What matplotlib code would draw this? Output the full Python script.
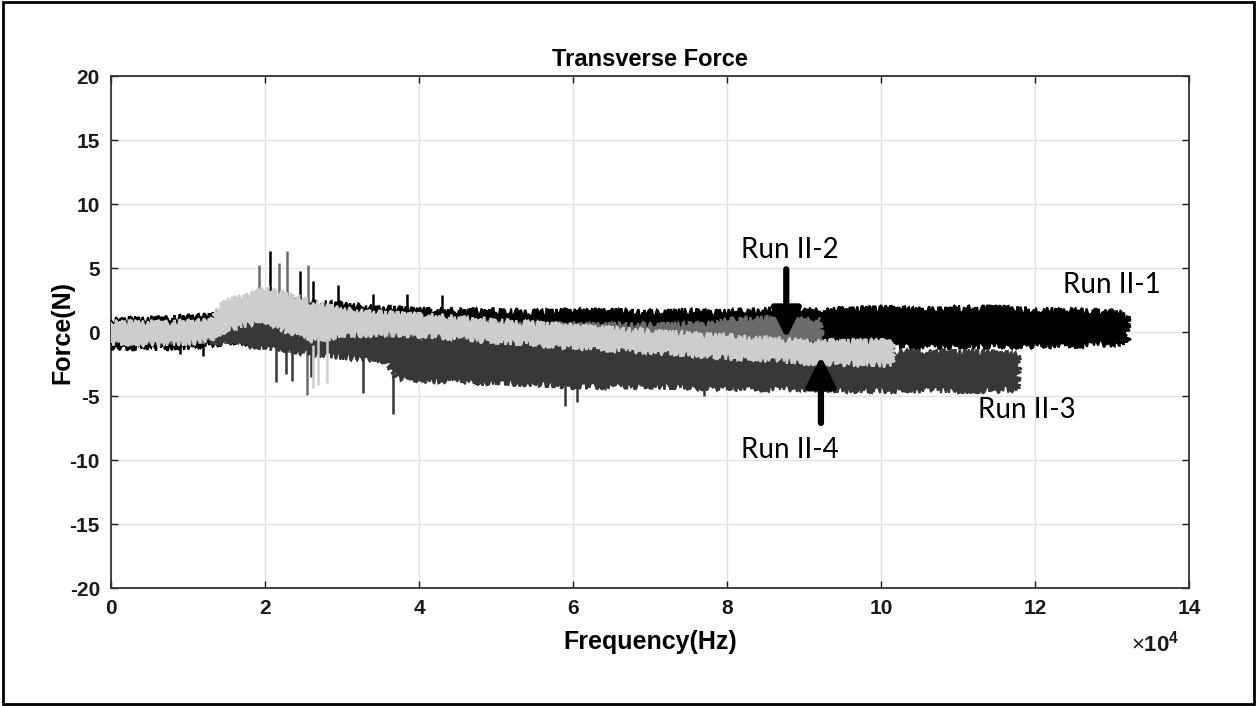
import numpy as np
import matplotlib
matplotlib.use("Agg")
import matplotlib.pyplot as plt
from matplotlib.patches import Rectangle

plt.rcParams['axes.unicode_minus'] = False
plt.rcParams['mathtext.fontset'] = 'custom'
plt.rcParams['mathtext.rm'] = 'Liberation Sans'
plt.rcParams['mathtext.bf'] = 'Liberation Sans:bold'

# frequency axis in units of 1e4 Hz, force in N (envelopes)

# Run II-1 (black)
x1 = [0, 0.5, 1.0, 1.3, 1.6, 2.0, 2.5, 3.0, 3.5, 4.0, 4.5, 5.0, 5.5, 6.0, 6.5, 7.0,
      7.5, 8.0, 8.5, 9.0, 9.5, 10.0, 10.5, 11.0, 11.5, 12.0, 12.5, 13.0, 13.2]
upper1 = [0.9, 1.0, 1.1, 1.2, 2.0, 2.6, 2.3, 2.1, 1.8, 1.7, 1.6, 1.6, 1.5, 1.6, 1.6, 1.5,
          1.6, 1.5, 1.7, 1.6, 1.7, 1.8, 1.7, 1.8, 1.8, 1.7, 1.6, 1.5, 1.3]
lower1 = [-1.1, -1.2, -1.1, -0.9, -0.7, -0.9, -1.0, -0.9, -0.9, -0.9, -0.8, -0.8, -0.8, -0.9, -0.9, -0.9,
          -0.9, -0.9, -1.0, -1.0, -1.0, -1.1, -1.1, -1.1, -1.1, -1.0, -1.0, -0.9, -0.8]

# Run II-2 (mid gray)
x2 = [0, 1.3, 2.0, 2.5, 3.0, 3.5, 4.0, 5.0, 6.0, 7.0, 7.8, 8.2, 8.5, 9.0, 9.21]
upper2 = [0.6, 0.7, 2.3, 1.8, 1.3, 0.9, 0.7, 0.6, 0.5, 0.5, 0.6, 1.0, 1.0, 0.9, 0.9]
lower2 = [-0.7, -0.7, -0.4, -0.8, -0.8, -0.7, -0.6, -0.6, -0.6, -0.7, -0.7, -0.7, -0.7, -0.7, -0.7]

# Run II-3 (dark gray)
x3 = [1.3, 1.6, 2.0, 2.4, 2.8, 3.2, 3.6, 3.7, 4.0, 4.5, 5.0, 5.5, 6.0, 6.5, 7.0, 7.5,
      8.0, 8.5, 9.0, 9.5, 10.0, 10.5, 11.0, 11.5, 11.78]
upper3 = [0.2, 0.5, 0.8, 0.6, 0.2, -0.2, -0.3, -0.4, -0.5, -0.6, -0.8, -1.0, -1.1, -1.2, -1.3, -1.4,
          -1.5, -1.6, -1.7, -1.6, -1.6, -1.6, -1.6, -1.7, -1.8]
lower3 = [-0.7, -0.9, -1.1, -1.5, -1.8, -2.0, -2.2, -3.5, -3.7, -3.8, -3.9, -4.0, -4.2, -4.2, -4.2, -4.3,
          -4.3, -4.4, -4.4, -4.5, -4.5, -4.5, -4.5, -4.5, -4.4]

# Run II-4 (light gray)
x4 = [0, 0.5, 1.0, 1.3, 1.5, 1.8, 2.0, 2.3, 2.6, 3.0, 3.5, 4.0, 4.5, 5.0, 5.5, 6.0,
      6.5, 7.0, 7.5, 8.0, 8.5, 9.0, 9.5, 10.0, 10.14]
upper4 = [0.7, 0.7, 0.7, 0.8, 2.4, 2.8, 3.3, 2.8, 2.3, 1.7, 1.4, 1.3, 1.0, 0.8, 0.6, 0.4,
          0.2, 0.0, -0.2, -0.4, -0.6, -0.8, -0.8, -0.8, -0.8]
lower4 = [-0.8, -0.9, -0.8, -0.5, 0.3, 0.7, 0.9, 0.1, -0.6, -0.2, -0.1, -0.2, -0.4, -0.7, -0.9, -1.1,
          -1.3, -1.5, -1.7, -1.9, -2.1, -2.3, -2.4, -2.5, -2.5]

# isolated spikes
spike_x = [1.92, 2.07, 2.18, 2.29, 2.45, 2.56, 2.14, 2.27, 2.54, 2.69, 2.80, 3.27, 3.66,
           3.4, 5.9, 6.05, 1.2, 0.9, 2.62, 2.95, 3.85, 2.35, 2.60, 2.62, 4.3, 7.7]
spike_lo = [0.5, 0.5, 0.5, 0.5, 0.5, 0.5, -3.9, -3.3, -4.9, -4.1, -4.0, -4.8, -6.4,
            1.0, -5.8, -5.5, -1.9, -1.7, 1.0, 1.0, 1.0, -3.8, -3.5, -4.4, 1.0, -5.0]
spike_hi = [5.2, 6.3, 5.4, 6.3, 4.8, 5.2, 0.0, 0.0, 0.0, -0.5, -0.5, -2.0, -3.0,
            3.0, -4.0, -4.0, 0.0, 0.0, 4.0, 3.7, 3.0, 0.0, 0.0, -1.0, 2.9, -4.0]
spike_run = [2, 1, 2, 2, 1, 2, 3, 3, 2, 4, 4, 3, 3,
             1, 3, 3, 1, 1, 1, 1, 1, 3, 3, 4, 1, 3]

colors = {1: "#000000", 2: "#6b6b6b", 3: "#383838", 4: "#cdcdcd"}

fig = plt.figure(figsize=(12.57, 7.06), dpi=100)
ax = fig.add_axes([0.0883, 0.1671, 0.8576, 0.7252])

runs = [(1, x1, upper1, lower1), (2, x2, upper2, lower2),
        (3, x3, upper3, lower3), (4, x4, upper4, lower4)]
for r, xs, up, lo in runs:
    # noisy look of the spectra: sketch style on the band outline
    px = np.concatenate([xs, xs[::-1]])
    py = np.concatenate([up, lo[::-1]])
    poly, = ax.fill(px, py, facecolor=colors[r], edgecolor=colors[r],
                    linewidth=1.5, zorder=2 + r)
    poly.set_sketch_params(scale=3.5, length=3, randomness=6)
    sx = [s for s, k in zip(spike_x, spike_run) if k == r]
    slo = [s for s, k in zip(spike_lo, spike_run) if k == r]
    shi = [s for s, k in zip(spike_hi, spike_run) if k == r]
    ax.vlines(sx, slo, shi, color=colors[r], linewidth=1.8, zorder=2 + r)

ax.set_xlim(0, 14)
ax.set_ylim(-20, 20)
ax.set_xticks(range(0, 15, 2))
ax.set_yticks(range(-20, 21, 5))
ax.grid(True, color="#e2e2e2", linewidth=1.0, zorder=0)
ax.set_axisbelow(True)
ax.tick_params(direction="in", top=True, right=True, length=5, width=1,
               labelsize=15, colors="#1a1a1a", pad=8)
for lab in ax.get_xticklabels() + ax.get_yticklabels():
    lab.set_fontweight("bold")
    lab.set_family("Liberation Sans")
for sp in ax.spines.values():
    sp.set_color("#333333")
    sp.set_linewidth(1.3)

ax.set_title("Transverse Force", fontsize=17, fontweight="bold",
             family="Liberation Sans", pad=7)
ax.set_xlabel("Frequency(Hz)", fontsize=18, fontweight="bold",
              family="Liberation Sans")
ax.set_ylabel("Force(N)", fontsize=18, fontweight="bold",
              family="Liberation Sans")
ax.xaxis.set_label_coords(0.5, -0.105)
ax.xaxis.label.set_va("center")
ax.yaxis.set_label_coords(-0.0455, 0.5)
ax.yaxis.label.set_va("center")
fig.text(1155 / 1257, 1 - 643 / 706, r"$\times\mathbf{10}^{\mathbf{4}}$", fontsize=16,
         ha="center", va="center", color="#1a1a1a")

# annotations
lbl = dict(fontsize=20, family="Lato", ha="center", va="center")
ax.text(8.82, 6.4, "Run II-2", **lbl)
ax.text(8.82, -9.2, "Run II-4", **lbl)
ax.text(13.0, 3.7, "Run II-1", **lbl)
ax.text(11.9, -6.1, "Run II-3", **lbl)
arrow = dict(arrowstyle="-|>,head_width=0.9,head_length=1.8", color="black", lw=4.5,
             shrinkA=0, shrinkB=0)
ax.annotate("", xy=(8.77, -0.5), xytext=(8.77, 4.9), arrowprops=arrow, zorder=10)
ax.annotate("", xy=(9.22, -1.9), xytext=(9.22, -7.1), arrowprops=arrow, zorder=10)

fig.patches.append(Rectangle((0.002, 0.003), 0.996, 0.994, transform=fig.transFigure,
                             fill=False, edgecolor="black", linewidth=2))

fig.savefig("out.png", dpi=100)
